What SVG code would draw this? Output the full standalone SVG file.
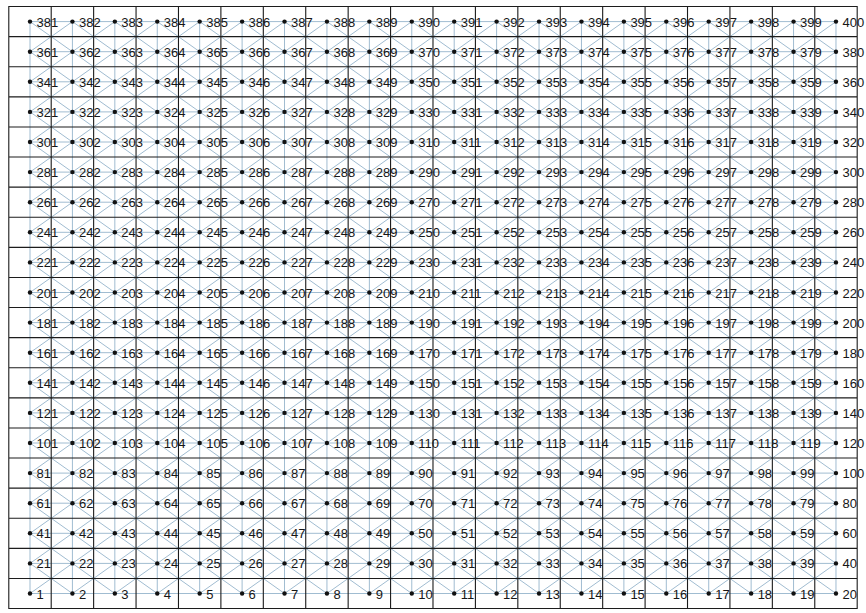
<svg xmlns="http://www.w3.org/2000/svg" width="866" height="613" viewBox="0 0 866 613">
<style>
.mesh{fill:none;stroke:#a0bcd1;stroke-width:1}
.grid{fill:none;stroke:#1c1c1c;stroke-width:1.1}
circle{fill:#111}
text{font-family:"Liberation Sans",Arial,sans-serif;font-size:13px;fill:#161616}
</style>
<rect width="866" height="613" fill="#ffffff"/>
<g id="connectors" transform="translate(30,593.5) scale(42.42,-30.1)">
<path class="mesh" vector-effect="non-scaling-stroke" d="M0 0H19M0 1H19M0 2H19M0 3H19M0 4H19M0 5H19M0 6H19M0 7H19M0 8H19M0 9H19M0 10H19M0 11H19M0 12H19M0 13H19M0 14H19M0 15H19M0 16H19M0 17H19M0 18H19M0 19H19"/>
<path class="mesh" vector-effect="non-scaling-stroke" d="M0 0V19M1 0V19M2 0V19M3 0V19M4 0V19M5 0V19M6 0V19M7 0V19M8 0V19M9 0V19M10 0V19M11 0V19M12 0V19M13 0V19M14 0V19M15 0V19M16 0V19M17 0V19M18 0V19M19 0V19"/>
<path class="mesh" vector-effect="non-scaling-stroke" d="M0 0L19 19M1 0L19 18M2 0L19 17M3 0L19 16M4 0L19 15M5 0L19 14M6 0L19 13M7 0L19 12M8 0L19 11M9 0L19 10M10 0L19 9M11 0L19 8M12 0L19 7M13 0L19 6M14 0L19 5M15 0L19 4M16 0L19 3M17 0L19 2M18 0L19 1M0 1L18 19M0 2L17 19M0 3L16 19M0 4L15 19M0 5L14 19M0 6L13 19M0 7L12 19M0 8L11 19M0 9L10 19M0 10L9 19M0 11L8 19M0 12L7 19M0 13L6 19M0 14L5 19M0 15L4 19M0 16L3 19M0 17L2 19M0 18L1 19"/>
<path class="mesh" vector-effect="non-scaling-stroke" d="M0 1L1 0M0 2L2 0M0 3L3 0M0 4L4 0M0 5L5 0M0 6L6 0M0 7L7 0M0 8L8 0M0 9L9 0M0 10L10 0M0 11L11 0M0 12L12 0M0 13L13 0M0 14L14 0M0 15L15 0M0 16L16 0M0 17L17 0M0 18L18 0M0 19L19 0M1 19L19 1M2 19L19 2M3 19L19 3M4 19L19 4M5 19L19 5M6 19L19 6M7 19L19 7M8 19L19 8M9 19L19 9M10 19L19 10M11 19L19 11M12 19L19 12M13 19L19 13M14 19L19 14M15 19L19 15M16 19L19 16M17 19L19 17M18 19L19 18"/>
</g>
<g id="grid" transform="translate(30,593.5) scale(42.42,-30.1)">
<path class="grid" vector-effect="non-scaling-stroke" d="M-0.5 -0.5H19.5V19.5H-0.5ZM0.5 -0.5V19.5M1.5 -0.5V19.5M2.5 -0.5V19.5M3.5 -0.5V19.5M4.5 -0.5V19.5M5.5 -0.5V19.5M6.5 -0.5V19.5M7.5 -0.5V19.5M8.5 -0.5V19.5M9.5 -0.5V19.5M10.5 -0.5V19.5M11.5 -0.5V19.5M12.5 -0.5V19.5M13.5 -0.5V19.5M14.5 -0.5V19.5M15.5 -0.5V19.5M16.5 -0.5V19.5M17.5 -0.5V19.5M18.5 -0.5V19.5M-0.5 0.5H19.5M-0.5 1.5H19.5M-0.5 2.5H19.5M-0.5 3.5H19.5M-0.5 4.5H19.5M-0.5 5.5H19.5M-0.5 6.5H19.5M-0.5 7.5H19.5M-0.5 8.5H19.5M-0.5 9.5H19.5M-0.5 10.5H19.5M-0.5 11.5H19.5M-0.5 12.5H19.5M-0.5 13.5H19.5M-0.5 14.5H19.5M-0.5 15.5H19.5M-0.5 16.5H19.5M-0.5 17.5H19.5M-0.5 18.5H19.5"/>
</g>
<g id="nodes">
<g id="row0" transform="translate(0,593.5)">
<g id="n1" transform="translate(30)"><circle r="2.2"/><text x="6.5" y="5">1</text></g>
<g id="n2" transform="translate(72.42)"><circle r="2.2"/><text x="6.5" y="5">2</text></g>
<g id="n3" transform="translate(114.84)"><circle r="2.2"/><text x="6.5" y="5">3</text></g>
<g id="n4" transform="translate(157.26)"><circle r="2.2"/><text x="6.5" y="5">4</text></g>
<g id="n5" transform="translate(199.68)"><circle r="2.2"/><text x="6.5" y="5">5</text></g>
<g id="n6" transform="translate(242.1)"><circle r="2.2"/><text x="6.5" y="5">6</text></g>
<g id="n7" transform="translate(284.52)"><circle r="2.2"/><text x="6.5" y="5">7</text></g>
<g id="n8" transform="translate(326.94)"><circle r="2.2"/><text x="6.5" y="5">8</text></g>
<g id="n9" transform="translate(369.36)"><circle r="2.2"/><text x="6.5" y="5">9</text></g>
<g id="n10" transform="translate(411.78)"><circle r="2.2"/><text x="6.5" y="5">10</text></g>
<g id="n11" transform="translate(454.2)"><circle r="2.2"/><text x="6.5" y="5">11</text></g>
<g id="n12" transform="translate(496.62)"><circle r="2.2"/><text x="6.5" y="5">12</text></g>
<g id="n13" transform="translate(539.04)"><circle r="2.2"/><text x="6.5" y="5">13</text></g>
<g id="n14" transform="translate(581.46)"><circle r="2.2"/><text x="6.5" y="5">14</text></g>
<g id="n15" transform="translate(623.88)"><circle r="2.2"/><text x="6.5" y="5">15</text></g>
<g id="n16" transform="translate(666.3)"><circle r="2.2"/><text x="6.5" y="5">16</text></g>
<g id="n17" transform="translate(708.72)"><circle r="2.2"/><text x="6.5" y="5">17</text></g>
<g id="n18" transform="translate(751.14)"><circle r="2.2"/><text x="6.5" y="5">18</text></g>
<g id="n19" transform="translate(793.56)"><circle r="2.2"/><text x="6.5" y="5">19</text></g>
<g id="n20" transform="translate(835.98)"><circle r="2.2"/><text x="6.5" y="5">20</text></g>
</g>
<g id="row1" transform="translate(0,563.4)">
<g id="n21" transform="translate(30)"><circle r="2.2"/><text x="6.5" y="5">21</text></g>
<g id="n22" transform="translate(72.42)"><circle r="2.2"/><text x="6.5" y="5">22</text></g>
<g id="n23" transform="translate(114.84)"><circle r="2.2"/><text x="6.5" y="5">23</text></g>
<g id="n24" transform="translate(157.26)"><circle r="2.2"/><text x="6.5" y="5">24</text></g>
<g id="n25" transform="translate(199.68)"><circle r="2.2"/><text x="6.5" y="5">25</text></g>
<g id="n26" transform="translate(242.1)"><circle r="2.2"/><text x="6.5" y="5">26</text></g>
<g id="n27" transform="translate(284.52)"><circle r="2.2"/><text x="6.5" y="5">27</text></g>
<g id="n28" transform="translate(326.94)"><circle r="2.2"/><text x="6.5" y="5">28</text></g>
<g id="n29" transform="translate(369.36)"><circle r="2.2"/><text x="6.5" y="5">29</text></g>
<g id="n30" transform="translate(411.78)"><circle r="2.2"/><text x="6.5" y="5">30</text></g>
<g id="n31" transform="translate(454.2)"><circle r="2.2"/><text x="6.5" y="5">31</text></g>
<g id="n32" transform="translate(496.62)"><circle r="2.2"/><text x="6.5" y="5">32</text></g>
<g id="n33" transform="translate(539.04)"><circle r="2.2"/><text x="6.5" y="5">33</text></g>
<g id="n34" transform="translate(581.46)"><circle r="2.2"/><text x="6.5" y="5">34</text></g>
<g id="n35" transform="translate(623.88)"><circle r="2.2"/><text x="6.5" y="5">35</text></g>
<g id="n36" transform="translate(666.3)"><circle r="2.2"/><text x="6.5" y="5">36</text></g>
<g id="n37" transform="translate(708.72)"><circle r="2.2"/><text x="6.5" y="5">37</text></g>
<g id="n38" transform="translate(751.14)"><circle r="2.2"/><text x="6.5" y="5">38</text></g>
<g id="n39" transform="translate(793.56)"><circle r="2.2"/><text x="6.5" y="5">39</text></g>
<g id="n40" transform="translate(835.98)"><circle r="2.2"/><text x="6.5" y="5">40</text></g>
</g>
<g id="row2" transform="translate(0,533.3)">
<g id="n41" transform="translate(30)"><circle r="2.2"/><text x="6.5" y="5">41</text></g>
<g id="n42" transform="translate(72.42)"><circle r="2.2"/><text x="6.5" y="5">42</text></g>
<g id="n43" transform="translate(114.84)"><circle r="2.2"/><text x="6.5" y="5">43</text></g>
<g id="n44" transform="translate(157.26)"><circle r="2.2"/><text x="6.5" y="5">44</text></g>
<g id="n45" transform="translate(199.68)"><circle r="2.2"/><text x="6.5" y="5">45</text></g>
<g id="n46" transform="translate(242.1)"><circle r="2.2"/><text x="6.5" y="5">46</text></g>
<g id="n47" transform="translate(284.52)"><circle r="2.2"/><text x="6.5" y="5">47</text></g>
<g id="n48" transform="translate(326.94)"><circle r="2.2"/><text x="6.5" y="5">48</text></g>
<g id="n49" transform="translate(369.36)"><circle r="2.2"/><text x="6.5" y="5">49</text></g>
<g id="n50" transform="translate(411.78)"><circle r="2.2"/><text x="6.5" y="5">50</text></g>
<g id="n51" transform="translate(454.2)"><circle r="2.2"/><text x="6.5" y="5">51</text></g>
<g id="n52" transform="translate(496.62)"><circle r="2.2"/><text x="6.5" y="5">52</text></g>
<g id="n53" transform="translate(539.04)"><circle r="2.2"/><text x="6.5" y="5">53</text></g>
<g id="n54" transform="translate(581.46)"><circle r="2.2"/><text x="6.5" y="5">54</text></g>
<g id="n55" transform="translate(623.88)"><circle r="2.2"/><text x="6.5" y="5">55</text></g>
<g id="n56" transform="translate(666.3)"><circle r="2.2"/><text x="6.5" y="5">56</text></g>
<g id="n57" transform="translate(708.72)"><circle r="2.2"/><text x="6.5" y="5">57</text></g>
<g id="n58" transform="translate(751.14)"><circle r="2.2"/><text x="6.5" y="5">58</text></g>
<g id="n59" transform="translate(793.56)"><circle r="2.2"/><text x="6.5" y="5">59</text></g>
<g id="n60" transform="translate(835.98)"><circle r="2.2"/><text x="6.5" y="5">60</text></g>
</g>
<g id="row3" transform="translate(0,503.2)">
<g id="n61" transform="translate(30)"><circle r="2.2"/><text x="6.5" y="5">61</text></g>
<g id="n62" transform="translate(72.42)"><circle r="2.2"/><text x="6.5" y="5">62</text></g>
<g id="n63" transform="translate(114.84)"><circle r="2.2"/><text x="6.5" y="5">63</text></g>
<g id="n64" transform="translate(157.26)"><circle r="2.2"/><text x="6.5" y="5">64</text></g>
<g id="n65" transform="translate(199.68)"><circle r="2.2"/><text x="6.5" y="5">65</text></g>
<g id="n66" transform="translate(242.1)"><circle r="2.2"/><text x="6.5" y="5">66</text></g>
<g id="n67" transform="translate(284.52)"><circle r="2.2"/><text x="6.5" y="5">67</text></g>
<g id="n68" transform="translate(326.94)"><circle r="2.2"/><text x="6.5" y="5">68</text></g>
<g id="n69" transform="translate(369.36)"><circle r="2.2"/><text x="6.5" y="5">69</text></g>
<g id="n70" transform="translate(411.78)"><circle r="2.2"/><text x="6.5" y="5">70</text></g>
<g id="n71" transform="translate(454.2)"><circle r="2.2"/><text x="6.5" y="5">71</text></g>
<g id="n72" transform="translate(496.62)"><circle r="2.2"/><text x="6.5" y="5">72</text></g>
<g id="n73" transform="translate(539.04)"><circle r="2.2"/><text x="6.5" y="5">73</text></g>
<g id="n74" transform="translate(581.46)"><circle r="2.2"/><text x="6.5" y="5">74</text></g>
<g id="n75" transform="translate(623.88)"><circle r="2.2"/><text x="6.5" y="5">75</text></g>
<g id="n76" transform="translate(666.3)"><circle r="2.2"/><text x="6.5" y="5">76</text></g>
<g id="n77" transform="translate(708.72)"><circle r="2.2"/><text x="6.5" y="5">77</text></g>
<g id="n78" transform="translate(751.14)"><circle r="2.2"/><text x="6.5" y="5">78</text></g>
<g id="n79" transform="translate(793.56)"><circle r="2.2"/><text x="6.5" y="5">79</text></g>
<g id="n80" transform="translate(835.98)"><circle r="2.2"/><text x="6.5" y="5">80</text></g>
</g>
<g id="row4" transform="translate(0,473.1)">
<g id="n81" transform="translate(30)"><circle r="2.2"/><text x="6.5" y="5">81</text></g>
<g id="n82" transform="translate(72.42)"><circle r="2.2"/><text x="6.5" y="5">82</text></g>
<g id="n83" transform="translate(114.84)"><circle r="2.2"/><text x="6.5" y="5">83</text></g>
<g id="n84" transform="translate(157.26)"><circle r="2.2"/><text x="6.5" y="5">84</text></g>
<g id="n85" transform="translate(199.68)"><circle r="2.2"/><text x="6.5" y="5">85</text></g>
<g id="n86" transform="translate(242.1)"><circle r="2.2"/><text x="6.5" y="5">86</text></g>
<g id="n87" transform="translate(284.52)"><circle r="2.2"/><text x="6.5" y="5">87</text></g>
<g id="n88" transform="translate(326.94)"><circle r="2.2"/><text x="6.5" y="5">88</text></g>
<g id="n89" transform="translate(369.36)"><circle r="2.2"/><text x="6.5" y="5">89</text></g>
<g id="n90" transform="translate(411.78)"><circle r="2.2"/><text x="6.5" y="5">90</text></g>
<g id="n91" transform="translate(454.2)"><circle r="2.2"/><text x="6.5" y="5">91</text></g>
<g id="n92" transform="translate(496.62)"><circle r="2.2"/><text x="6.5" y="5">92</text></g>
<g id="n93" transform="translate(539.04)"><circle r="2.2"/><text x="6.5" y="5">93</text></g>
<g id="n94" transform="translate(581.46)"><circle r="2.2"/><text x="6.5" y="5">94</text></g>
<g id="n95" transform="translate(623.88)"><circle r="2.2"/><text x="6.5" y="5">95</text></g>
<g id="n96" transform="translate(666.3)"><circle r="2.2"/><text x="6.5" y="5">96</text></g>
<g id="n97" transform="translate(708.72)"><circle r="2.2"/><text x="6.5" y="5">97</text></g>
<g id="n98" transform="translate(751.14)"><circle r="2.2"/><text x="6.5" y="5">98</text></g>
<g id="n99" transform="translate(793.56)"><circle r="2.2"/><text x="6.5" y="5">99</text></g>
<g id="n100" transform="translate(835.98)"><circle r="2.2"/><text x="6.5" y="5">100</text></g>
</g>
<g id="row5" transform="translate(0,443)">
<g id="n101" transform="translate(30)"><circle r="2.2"/><text x="6.5" y="5">101</text></g>
<g id="n102" transform="translate(72.42)"><circle r="2.2"/><text x="6.5" y="5">102</text></g>
<g id="n103" transform="translate(114.84)"><circle r="2.2"/><text x="6.5" y="5">103</text></g>
<g id="n104" transform="translate(157.26)"><circle r="2.2"/><text x="6.5" y="5">104</text></g>
<g id="n105" transform="translate(199.68)"><circle r="2.2"/><text x="6.5" y="5">105</text></g>
<g id="n106" transform="translate(242.1)"><circle r="2.2"/><text x="6.5" y="5">106</text></g>
<g id="n107" transform="translate(284.52)"><circle r="2.2"/><text x="6.5" y="5">107</text></g>
<g id="n108" transform="translate(326.94)"><circle r="2.2"/><text x="6.5" y="5">108</text></g>
<g id="n109" transform="translate(369.36)"><circle r="2.2"/><text x="6.5" y="5">109</text></g>
<g id="n110" transform="translate(411.78)"><circle r="2.2"/><text x="6.5" y="5">110</text></g>
<g id="n111" transform="translate(454.2)"><circle r="2.2"/><text x="6.5" y="5">111</text></g>
<g id="n112" transform="translate(496.62)"><circle r="2.2"/><text x="6.5" y="5">112</text></g>
<g id="n113" transform="translate(539.04)"><circle r="2.2"/><text x="6.5" y="5">113</text></g>
<g id="n114" transform="translate(581.46)"><circle r="2.2"/><text x="6.5" y="5">114</text></g>
<g id="n115" transform="translate(623.88)"><circle r="2.2"/><text x="6.5" y="5">115</text></g>
<g id="n116" transform="translate(666.3)"><circle r="2.2"/><text x="6.5" y="5">116</text></g>
<g id="n117" transform="translate(708.72)"><circle r="2.2"/><text x="6.5" y="5">117</text></g>
<g id="n118" transform="translate(751.14)"><circle r="2.2"/><text x="6.5" y="5">118</text></g>
<g id="n119" transform="translate(793.56)"><circle r="2.2"/><text x="6.5" y="5">119</text></g>
<g id="n120" transform="translate(835.98)"><circle r="2.2"/><text x="6.5" y="5">120</text></g>
</g>
<g id="row6" transform="translate(0,412.9)">
<g id="n121" transform="translate(30)"><circle r="2.2"/><text x="6.5" y="5">121</text></g>
<g id="n122" transform="translate(72.42)"><circle r="2.2"/><text x="6.5" y="5">122</text></g>
<g id="n123" transform="translate(114.84)"><circle r="2.2"/><text x="6.5" y="5">123</text></g>
<g id="n124" transform="translate(157.26)"><circle r="2.2"/><text x="6.5" y="5">124</text></g>
<g id="n125" transform="translate(199.68)"><circle r="2.2"/><text x="6.5" y="5">125</text></g>
<g id="n126" transform="translate(242.1)"><circle r="2.2"/><text x="6.5" y="5">126</text></g>
<g id="n127" transform="translate(284.52)"><circle r="2.2"/><text x="6.5" y="5">127</text></g>
<g id="n128" transform="translate(326.94)"><circle r="2.2"/><text x="6.5" y="5">128</text></g>
<g id="n129" transform="translate(369.36)"><circle r="2.2"/><text x="6.5" y="5">129</text></g>
<g id="n130" transform="translate(411.78)"><circle r="2.2"/><text x="6.5" y="5">130</text></g>
<g id="n131" transform="translate(454.2)"><circle r="2.2"/><text x="6.5" y="5">131</text></g>
<g id="n132" transform="translate(496.62)"><circle r="2.2"/><text x="6.5" y="5">132</text></g>
<g id="n133" transform="translate(539.04)"><circle r="2.2"/><text x="6.5" y="5">133</text></g>
<g id="n134" transform="translate(581.46)"><circle r="2.2"/><text x="6.5" y="5">134</text></g>
<g id="n135" transform="translate(623.88)"><circle r="2.2"/><text x="6.5" y="5">135</text></g>
<g id="n136" transform="translate(666.3)"><circle r="2.2"/><text x="6.5" y="5">136</text></g>
<g id="n137" transform="translate(708.72)"><circle r="2.2"/><text x="6.5" y="5">137</text></g>
<g id="n138" transform="translate(751.14)"><circle r="2.2"/><text x="6.5" y="5">138</text></g>
<g id="n139" transform="translate(793.56)"><circle r="2.2"/><text x="6.5" y="5">139</text></g>
<g id="n140" transform="translate(835.98)"><circle r="2.2"/><text x="6.5" y="5">140</text></g>
</g>
<g id="row7" transform="translate(0,382.8)">
<g id="n141" transform="translate(30)"><circle r="2.2"/><text x="6.5" y="5">141</text></g>
<g id="n142" transform="translate(72.42)"><circle r="2.2"/><text x="6.5" y="5">142</text></g>
<g id="n143" transform="translate(114.84)"><circle r="2.2"/><text x="6.5" y="5">143</text></g>
<g id="n144" transform="translate(157.26)"><circle r="2.2"/><text x="6.5" y="5">144</text></g>
<g id="n145" transform="translate(199.68)"><circle r="2.2"/><text x="6.5" y="5">145</text></g>
<g id="n146" transform="translate(242.1)"><circle r="2.2"/><text x="6.5" y="5">146</text></g>
<g id="n147" transform="translate(284.52)"><circle r="2.2"/><text x="6.5" y="5">147</text></g>
<g id="n148" transform="translate(326.94)"><circle r="2.2"/><text x="6.5" y="5">148</text></g>
<g id="n149" transform="translate(369.36)"><circle r="2.2"/><text x="6.5" y="5">149</text></g>
<g id="n150" transform="translate(411.78)"><circle r="2.2"/><text x="6.5" y="5">150</text></g>
<g id="n151" transform="translate(454.2)"><circle r="2.2"/><text x="6.5" y="5">151</text></g>
<g id="n152" transform="translate(496.62)"><circle r="2.2"/><text x="6.5" y="5">152</text></g>
<g id="n153" transform="translate(539.04)"><circle r="2.2"/><text x="6.5" y="5">153</text></g>
<g id="n154" transform="translate(581.46)"><circle r="2.2"/><text x="6.5" y="5">154</text></g>
<g id="n155" transform="translate(623.88)"><circle r="2.2"/><text x="6.5" y="5">155</text></g>
<g id="n156" transform="translate(666.3)"><circle r="2.2"/><text x="6.5" y="5">156</text></g>
<g id="n157" transform="translate(708.72)"><circle r="2.2"/><text x="6.5" y="5">157</text></g>
<g id="n158" transform="translate(751.14)"><circle r="2.2"/><text x="6.5" y="5">158</text></g>
<g id="n159" transform="translate(793.56)"><circle r="2.2"/><text x="6.5" y="5">159</text></g>
<g id="n160" transform="translate(835.98)"><circle r="2.2"/><text x="6.5" y="5">160</text></g>
</g>
<g id="row8" transform="translate(0,352.7)">
<g id="n161" transform="translate(30)"><circle r="2.2"/><text x="6.5" y="5">161</text></g>
<g id="n162" transform="translate(72.42)"><circle r="2.2"/><text x="6.5" y="5">162</text></g>
<g id="n163" transform="translate(114.84)"><circle r="2.2"/><text x="6.5" y="5">163</text></g>
<g id="n164" transform="translate(157.26)"><circle r="2.2"/><text x="6.5" y="5">164</text></g>
<g id="n165" transform="translate(199.68)"><circle r="2.2"/><text x="6.5" y="5">165</text></g>
<g id="n166" transform="translate(242.1)"><circle r="2.2"/><text x="6.5" y="5">166</text></g>
<g id="n167" transform="translate(284.52)"><circle r="2.2"/><text x="6.5" y="5">167</text></g>
<g id="n168" transform="translate(326.94)"><circle r="2.2"/><text x="6.5" y="5">168</text></g>
<g id="n169" transform="translate(369.36)"><circle r="2.2"/><text x="6.5" y="5">169</text></g>
<g id="n170" transform="translate(411.78)"><circle r="2.2"/><text x="6.5" y="5">170</text></g>
<g id="n171" transform="translate(454.2)"><circle r="2.2"/><text x="6.5" y="5">171</text></g>
<g id="n172" transform="translate(496.62)"><circle r="2.2"/><text x="6.5" y="5">172</text></g>
<g id="n173" transform="translate(539.04)"><circle r="2.2"/><text x="6.5" y="5">173</text></g>
<g id="n174" transform="translate(581.46)"><circle r="2.2"/><text x="6.5" y="5">174</text></g>
<g id="n175" transform="translate(623.88)"><circle r="2.2"/><text x="6.5" y="5">175</text></g>
<g id="n176" transform="translate(666.3)"><circle r="2.2"/><text x="6.5" y="5">176</text></g>
<g id="n177" transform="translate(708.72)"><circle r="2.2"/><text x="6.5" y="5">177</text></g>
<g id="n178" transform="translate(751.14)"><circle r="2.2"/><text x="6.5" y="5">178</text></g>
<g id="n179" transform="translate(793.56)"><circle r="2.2"/><text x="6.5" y="5">179</text></g>
<g id="n180" transform="translate(835.98)"><circle r="2.2"/><text x="6.5" y="5">180</text></g>
</g>
<g id="row9" transform="translate(0,322.6)">
<g id="n181" transform="translate(30)"><circle r="2.2"/><text x="6.5" y="5">181</text></g>
<g id="n182" transform="translate(72.42)"><circle r="2.2"/><text x="6.5" y="5">182</text></g>
<g id="n183" transform="translate(114.84)"><circle r="2.2"/><text x="6.5" y="5">183</text></g>
<g id="n184" transform="translate(157.26)"><circle r="2.2"/><text x="6.5" y="5">184</text></g>
<g id="n185" transform="translate(199.68)"><circle r="2.2"/><text x="6.5" y="5">185</text></g>
<g id="n186" transform="translate(242.1)"><circle r="2.2"/><text x="6.5" y="5">186</text></g>
<g id="n187" transform="translate(284.52)"><circle r="2.2"/><text x="6.5" y="5">187</text></g>
<g id="n188" transform="translate(326.94)"><circle r="2.2"/><text x="6.5" y="5">188</text></g>
<g id="n189" transform="translate(369.36)"><circle r="2.2"/><text x="6.5" y="5">189</text></g>
<g id="n190" transform="translate(411.78)"><circle r="2.2"/><text x="6.5" y="5">190</text></g>
<g id="n191" transform="translate(454.2)"><circle r="2.2"/><text x="6.5" y="5">191</text></g>
<g id="n192" transform="translate(496.62)"><circle r="2.2"/><text x="6.5" y="5">192</text></g>
<g id="n193" transform="translate(539.04)"><circle r="2.2"/><text x="6.5" y="5">193</text></g>
<g id="n194" transform="translate(581.46)"><circle r="2.2"/><text x="6.5" y="5">194</text></g>
<g id="n195" transform="translate(623.88)"><circle r="2.2"/><text x="6.5" y="5">195</text></g>
<g id="n196" transform="translate(666.3)"><circle r="2.2"/><text x="6.5" y="5">196</text></g>
<g id="n197" transform="translate(708.72)"><circle r="2.2"/><text x="6.5" y="5">197</text></g>
<g id="n198" transform="translate(751.14)"><circle r="2.2"/><text x="6.5" y="5">198</text></g>
<g id="n199" transform="translate(793.56)"><circle r="2.2"/><text x="6.5" y="5">199</text></g>
<g id="n200" transform="translate(835.98)"><circle r="2.2"/><text x="6.5" y="5">200</text></g>
</g>
<g id="row10" transform="translate(0,292.5)">
<g id="n201" transform="translate(30)"><circle r="2.2"/><text x="6.5" y="5">201</text></g>
<g id="n202" transform="translate(72.42)"><circle r="2.2"/><text x="6.5" y="5">202</text></g>
<g id="n203" transform="translate(114.84)"><circle r="2.2"/><text x="6.5" y="5">203</text></g>
<g id="n204" transform="translate(157.26)"><circle r="2.2"/><text x="6.5" y="5">204</text></g>
<g id="n205" transform="translate(199.68)"><circle r="2.2"/><text x="6.5" y="5">205</text></g>
<g id="n206" transform="translate(242.1)"><circle r="2.2"/><text x="6.5" y="5">206</text></g>
<g id="n207" transform="translate(284.52)"><circle r="2.2"/><text x="6.5" y="5">207</text></g>
<g id="n208" transform="translate(326.94)"><circle r="2.2"/><text x="6.5" y="5">208</text></g>
<g id="n209" transform="translate(369.36)"><circle r="2.2"/><text x="6.5" y="5">209</text></g>
<g id="n210" transform="translate(411.78)"><circle r="2.2"/><text x="6.5" y="5">210</text></g>
<g id="n211" transform="translate(454.2)"><circle r="2.2"/><text x="6.5" y="5">211</text></g>
<g id="n212" transform="translate(496.62)"><circle r="2.2"/><text x="6.5" y="5">212</text></g>
<g id="n213" transform="translate(539.04)"><circle r="2.2"/><text x="6.5" y="5">213</text></g>
<g id="n214" transform="translate(581.46)"><circle r="2.2"/><text x="6.5" y="5">214</text></g>
<g id="n215" transform="translate(623.88)"><circle r="2.2"/><text x="6.5" y="5">215</text></g>
<g id="n216" transform="translate(666.3)"><circle r="2.2"/><text x="6.5" y="5">216</text></g>
<g id="n217" transform="translate(708.72)"><circle r="2.2"/><text x="6.5" y="5">217</text></g>
<g id="n218" transform="translate(751.14)"><circle r="2.2"/><text x="6.5" y="5">218</text></g>
<g id="n219" transform="translate(793.56)"><circle r="2.2"/><text x="6.5" y="5">219</text></g>
<g id="n220" transform="translate(835.98)"><circle r="2.2"/><text x="6.5" y="5">220</text></g>
</g>
<g id="row11" transform="translate(0,262.4)">
<g id="n221" transform="translate(30)"><circle r="2.2"/><text x="6.5" y="5">221</text></g>
<g id="n222" transform="translate(72.42)"><circle r="2.2"/><text x="6.5" y="5">222</text></g>
<g id="n223" transform="translate(114.84)"><circle r="2.2"/><text x="6.5" y="5">223</text></g>
<g id="n224" transform="translate(157.26)"><circle r="2.2"/><text x="6.5" y="5">224</text></g>
<g id="n225" transform="translate(199.68)"><circle r="2.2"/><text x="6.5" y="5">225</text></g>
<g id="n226" transform="translate(242.1)"><circle r="2.2"/><text x="6.5" y="5">226</text></g>
<g id="n227" transform="translate(284.52)"><circle r="2.2"/><text x="6.5" y="5">227</text></g>
<g id="n228" transform="translate(326.94)"><circle r="2.2"/><text x="6.5" y="5">228</text></g>
<g id="n229" transform="translate(369.36)"><circle r="2.2"/><text x="6.5" y="5">229</text></g>
<g id="n230" transform="translate(411.78)"><circle r="2.2"/><text x="6.5" y="5">230</text></g>
<g id="n231" transform="translate(454.2)"><circle r="2.2"/><text x="6.5" y="5">231</text></g>
<g id="n232" transform="translate(496.62)"><circle r="2.2"/><text x="6.5" y="5">232</text></g>
<g id="n233" transform="translate(539.04)"><circle r="2.2"/><text x="6.5" y="5">233</text></g>
<g id="n234" transform="translate(581.46)"><circle r="2.2"/><text x="6.5" y="5">234</text></g>
<g id="n235" transform="translate(623.88)"><circle r="2.2"/><text x="6.5" y="5">235</text></g>
<g id="n236" transform="translate(666.3)"><circle r="2.2"/><text x="6.5" y="5">236</text></g>
<g id="n237" transform="translate(708.72)"><circle r="2.2"/><text x="6.5" y="5">237</text></g>
<g id="n238" transform="translate(751.14)"><circle r="2.2"/><text x="6.5" y="5">238</text></g>
<g id="n239" transform="translate(793.56)"><circle r="2.2"/><text x="6.5" y="5">239</text></g>
<g id="n240" transform="translate(835.98)"><circle r="2.2"/><text x="6.5" y="5">240</text></g>
</g>
<g id="row12" transform="translate(0,232.3)">
<g id="n241" transform="translate(30)"><circle r="2.2"/><text x="6.5" y="5">241</text></g>
<g id="n242" transform="translate(72.42)"><circle r="2.2"/><text x="6.5" y="5">242</text></g>
<g id="n243" transform="translate(114.84)"><circle r="2.2"/><text x="6.5" y="5">243</text></g>
<g id="n244" transform="translate(157.26)"><circle r="2.2"/><text x="6.5" y="5">244</text></g>
<g id="n245" transform="translate(199.68)"><circle r="2.2"/><text x="6.5" y="5">245</text></g>
<g id="n246" transform="translate(242.1)"><circle r="2.2"/><text x="6.5" y="5">246</text></g>
<g id="n247" transform="translate(284.52)"><circle r="2.2"/><text x="6.5" y="5">247</text></g>
<g id="n248" transform="translate(326.94)"><circle r="2.2"/><text x="6.5" y="5">248</text></g>
<g id="n249" transform="translate(369.36)"><circle r="2.2"/><text x="6.5" y="5">249</text></g>
<g id="n250" transform="translate(411.78)"><circle r="2.2"/><text x="6.5" y="5">250</text></g>
<g id="n251" transform="translate(454.2)"><circle r="2.2"/><text x="6.5" y="5">251</text></g>
<g id="n252" transform="translate(496.62)"><circle r="2.2"/><text x="6.5" y="5">252</text></g>
<g id="n253" transform="translate(539.04)"><circle r="2.2"/><text x="6.5" y="5">253</text></g>
<g id="n254" transform="translate(581.46)"><circle r="2.2"/><text x="6.5" y="5">254</text></g>
<g id="n255" transform="translate(623.88)"><circle r="2.2"/><text x="6.5" y="5">255</text></g>
<g id="n256" transform="translate(666.3)"><circle r="2.2"/><text x="6.5" y="5">256</text></g>
<g id="n257" transform="translate(708.72)"><circle r="2.2"/><text x="6.5" y="5">257</text></g>
<g id="n258" transform="translate(751.14)"><circle r="2.2"/><text x="6.5" y="5">258</text></g>
<g id="n259" transform="translate(793.56)"><circle r="2.2"/><text x="6.5" y="5">259</text></g>
<g id="n260" transform="translate(835.98)"><circle r="2.2"/><text x="6.5" y="5">260</text></g>
</g>
<g id="row13" transform="translate(0,202.2)">
<g id="n261" transform="translate(30)"><circle r="2.2"/><text x="6.5" y="5">261</text></g>
<g id="n262" transform="translate(72.42)"><circle r="2.2"/><text x="6.5" y="5">262</text></g>
<g id="n263" transform="translate(114.84)"><circle r="2.2"/><text x="6.5" y="5">263</text></g>
<g id="n264" transform="translate(157.26)"><circle r="2.2"/><text x="6.5" y="5">264</text></g>
<g id="n265" transform="translate(199.68)"><circle r="2.2"/><text x="6.5" y="5">265</text></g>
<g id="n266" transform="translate(242.1)"><circle r="2.2"/><text x="6.5" y="5">266</text></g>
<g id="n267" transform="translate(284.52)"><circle r="2.2"/><text x="6.5" y="5">267</text></g>
<g id="n268" transform="translate(326.94)"><circle r="2.2"/><text x="6.5" y="5">268</text></g>
<g id="n269" transform="translate(369.36)"><circle r="2.2"/><text x="6.5" y="5">269</text></g>
<g id="n270" transform="translate(411.78)"><circle r="2.2"/><text x="6.5" y="5">270</text></g>
<g id="n271" transform="translate(454.2)"><circle r="2.2"/><text x="6.5" y="5">271</text></g>
<g id="n272" transform="translate(496.62)"><circle r="2.2"/><text x="6.5" y="5">272</text></g>
<g id="n273" transform="translate(539.04)"><circle r="2.2"/><text x="6.5" y="5">273</text></g>
<g id="n274" transform="translate(581.46)"><circle r="2.2"/><text x="6.5" y="5">274</text></g>
<g id="n275" transform="translate(623.88)"><circle r="2.2"/><text x="6.5" y="5">275</text></g>
<g id="n276" transform="translate(666.3)"><circle r="2.2"/><text x="6.5" y="5">276</text></g>
<g id="n277" transform="translate(708.72)"><circle r="2.2"/><text x="6.5" y="5">277</text></g>
<g id="n278" transform="translate(751.14)"><circle r="2.2"/><text x="6.5" y="5">278</text></g>
<g id="n279" transform="translate(793.56)"><circle r="2.2"/><text x="6.5" y="5">279</text></g>
<g id="n280" transform="translate(835.98)"><circle r="2.2"/><text x="6.5" y="5">280</text></g>
</g>
<g id="row14" transform="translate(0,172.1)">
<g id="n281" transform="translate(30)"><circle r="2.2"/><text x="6.5" y="5">281</text></g>
<g id="n282" transform="translate(72.42)"><circle r="2.2"/><text x="6.5" y="5">282</text></g>
<g id="n283" transform="translate(114.84)"><circle r="2.2"/><text x="6.5" y="5">283</text></g>
<g id="n284" transform="translate(157.26)"><circle r="2.2"/><text x="6.5" y="5">284</text></g>
<g id="n285" transform="translate(199.68)"><circle r="2.2"/><text x="6.5" y="5">285</text></g>
<g id="n286" transform="translate(242.1)"><circle r="2.2"/><text x="6.5" y="5">286</text></g>
<g id="n287" transform="translate(284.52)"><circle r="2.2"/><text x="6.5" y="5">287</text></g>
<g id="n288" transform="translate(326.94)"><circle r="2.2"/><text x="6.5" y="5">288</text></g>
<g id="n289" transform="translate(369.36)"><circle r="2.2"/><text x="6.5" y="5">289</text></g>
<g id="n290" transform="translate(411.78)"><circle r="2.2"/><text x="6.5" y="5">290</text></g>
<g id="n291" transform="translate(454.2)"><circle r="2.2"/><text x="6.5" y="5">291</text></g>
<g id="n292" transform="translate(496.62)"><circle r="2.2"/><text x="6.5" y="5">292</text></g>
<g id="n293" transform="translate(539.04)"><circle r="2.2"/><text x="6.5" y="5">293</text></g>
<g id="n294" transform="translate(581.46)"><circle r="2.2"/><text x="6.5" y="5">294</text></g>
<g id="n295" transform="translate(623.88)"><circle r="2.2"/><text x="6.5" y="5">295</text></g>
<g id="n296" transform="translate(666.3)"><circle r="2.2"/><text x="6.5" y="5">296</text></g>
<g id="n297" transform="translate(708.72)"><circle r="2.2"/><text x="6.5" y="5">297</text></g>
<g id="n298" transform="translate(751.14)"><circle r="2.2"/><text x="6.5" y="5">298</text></g>
<g id="n299" transform="translate(793.56)"><circle r="2.2"/><text x="6.5" y="5">299</text></g>
<g id="n300" transform="translate(835.98)"><circle r="2.2"/><text x="6.5" y="5">300</text></g>
</g>
<g id="row15" transform="translate(0,142)">
<g id="n301" transform="translate(30)"><circle r="2.2"/><text x="6.5" y="5">301</text></g>
<g id="n302" transform="translate(72.42)"><circle r="2.2"/><text x="6.5" y="5">302</text></g>
<g id="n303" transform="translate(114.84)"><circle r="2.2"/><text x="6.5" y="5">303</text></g>
<g id="n304" transform="translate(157.26)"><circle r="2.2"/><text x="6.5" y="5">304</text></g>
<g id="n305" transform="translate(199.68)"><circle r="2.2"/><text x="6.5" y="5">305</text></g>
<g id="n306" transform="translate(242.1)"><circle r="2.2"/><text x="6.5" y="5">306</text></g>
<g id="n307" transform="translate(284.52)"><circle r="2.2"/><text x="6.5" y="5">307</text></g>
<g id="n308" transform="translate(326.94)"><circle r="2.2"/><text x="6.5" y="5">308</text></g>
<g id="n309" transform="translate(369.36)"><circle r="2.2"/><text x="6.5" y="5">309</text></g>
<g id="n310" transform="translate(411.78)"><circle r="2.2"/><text x="6.5" y="5">310</text></g>
<g id="n311" transform="translate(454.2)"><circle r="2.2"/><text x="6.5" y="5">311</text></g>
<g id="n312" transform="translate(496.62)"><circle r="2.2"/><text x="6.5" y="5">312</text></g>
<g id="n313" transform="translate(539.04)"><circle r="2.2"/><text x="6.5" y="5">313</text></g>
<g id="n314" transform="translate(581.46)"><circle r="2.2"/><text x="6.5" y="5">314</text></g>
<g id="n315" transform="translate(623.88)"><circle r="2.2"/><text x="6.5" y="5">315</text></g>
<g id="n316" transform="translate(666.3)"><circle r="2.2"/><text x="6.5" y="5">316</text></g>
<g id="n317" transform="translate(708.72)"><circle r="2.2"/><text x="6.5" y="5">317</text></g>
<g id="n318" transform="translate(751.14)"><circle r="2.2"/><text x="6.5" y="5">318</text></g>
<g id="n319" transform="translate(793.56)"><circle r="2.2"/><text x="6.5" y="5">319</text></g>
<g id="n320" transform="translate(835.98)"><circle r="2.2"/><text x="6.5" y="5">320</text></g>
</g>
<g id="row16" transform="translate(0,111.9)">
<g id="n321" transform="translate(30)"><circle r="2.2"/><text x="6.5" y="5">321</text></g>
<g id="n322" transform="translate(72.42)"><circle r="2.2"/><text x="6.5" y="5">322</text></g>
<g id="n323" transform="translate(114.84)"><circle r="2.2"/><text x="6.5" y="5">323</text></g>
<g id="n324" transform="translate(157.26)"><circle r="2.2"/><text x="6.5" y="5">324</text></g>
<g id="n325" transform="translate(199.68)"><circle r="2.2"/><text x="6.5" y="5">325</text></g>
<g id="n326" transform="translate(242.1)"><circle r="2.2"/><text x="6.5" y="5">326</text></g>
<g id="n327" transform="translate(284.52)"><circle r="2.2"/><text x="6.5" y="5">327</text></g>
<g id="n328" transform="translate(326.94)"><circle r="2.2"/><text x="6.5" y="5">328</text></g>
<g id="n329" transform="translate(369.36)"><circle r="2.2"/><text x="6.5" y="5">329</text></g>
<g id="n330" transform="translate(411.78)"><circle r="2.2"/><text x="6.5" y="5">330</text></g>
<g id="n331" transform="translate(454.2)"><circle r="2.2"/><text x="6.5" y="5">331</text></g>
<g id="n332" transform="translate(496.62)"><circle r="2.2"/><text x="6.5" y="5">332</text></g>
<g id="n333" transform="translate(539.04)"><circle r="2.2"/><text x="6.5" y="5">333</text></g>
<g id="n334" transform="translate(581.46)"><circle r="2.2"/><text x="6.5" y="5">334</text></g>
<g id="n335" transform="translate(623.88)"><circle r="2.2"/><text x="6.5" y="5">335</text></g>
<g id="n336" transform="translate(666.3)"><circle r="2.2"/><text x="6.5" y="5">336</text></g>
<g id="n337" transform="translate(708.72)"><circle r="2.2"/><text x="6.5" y="5">337</text></g>
<g id="n338" transform="translate(751.14)"><circle r="2.2"/><text x="6.5" y="5">338</text></g>
<g id="n339" transform="translate(793.56)"><circle r="2.2"/><text x="6.5" y="5">339</text></g>
<g id="n340" transform="translate(835.98)"><circle r="2.2"/><text x="6.5" y="5">340</text></g>
</g>
<g id="row17" transform="translate(0,81.8)">
<g id="n341" transform="translate(30)"><circle r="2.2"/><text x="6.5" y="5">341</text></g>
<g id="n342" transform="translate(72.42)"><circle r="2.2"/><text x="6.5" y="5">342</text></g>
<g id="n343" transform="translate(114.84)"><circle r="2.2"/><text x="6.5" y="5">343</text></g>
<g id="n344" transform="translate(157.26)"><circle r="2.2"/><text x="6.5" y="5">344</text></g>
<g id="n345" transform="translate(199.68)"><circle r="2.2"/><text x="6.5" y="5">345</text></g>
<g id="n346" transform="translate(242.1)"><circle r="2.2"/><text x="6.5" y="5">346</text></g>
<g id="n347" transform="translate(284.52)"><circle r="2.2"/><text x="6.5" y="5">347</text></g>
<g id="n348" transform="translate(326.94)"><circle r="2.2"/><text x="6.5" y="5">348</text></g>
<g id="n349" transform="translate(369.36)"><circle r="2.2"/><text x="6.5" y="5">349</text></g>
<g id="n350" transform="translate(411.78)"><circle r="2.2"/><text x="6.5" y="5">350</text></g>
<g id="n351" transform="translate(454.2)"><circle r="2.2"/><text x="6.5" y="5">351</text></g>
<g id="n352" transform="translate(496.62)"><circle r="2.2"/><text x="6.5" y="5">352</text></g>
<g id="n353" transform="translate(539.04)"><circle r="2.2"/><text x="6.5" y="5">353</text></g>
<g id="n354" transform="translate(581.46)"><circle r="2.2"/><text x="6.5" y="5">354</text></g>
<g id="n355" transform="translate(623.88)"><circle r="2.2"/><text x="6.5" y="5">355</text></g>
<g id="n356" transform="translate(666.3)"><circle r="2.2"/><text x="6.5" y="5">356</text></g>
<g id="n357" transform="translate(708.72)"><circle r="2.2"/><text x="6.5" y="5">357</text></g>
<g id="n358" transform="translate(751.14)"><circle r="2.2"/><text x="6.5" y="5">358</text></g>
<g id="n359" transform="translate(793.56)"><circle r="2.2"/><text x="6.5" y="5">359</text></g>
<g id="n360" transform="translate(835.98)"><circle r="2.2"/><text x="6.5" y="5">360</text></g>
</g>
<g id="row18" transform="translate(0,51.7)">
<g id="n361" transform="translate(30)"><circle r="2.2"/><text x="6.5" y="5">361</text></g>
<g id="n362" transform="translate(72.42)"><circle r="2.2"/><text x="6.5" y="5">362</text></g>
<g id="n363" transform="translate(114.84)"><circle r="2.2"/><text x="6.5" y="5">363</text></g>
<g id="n364" transform="translate(157.26)"><circle r="2.2"/><text x="6.5" y="5">364</text></g>
<g id="n365" transform="translate(199.68)"><circle r="2.2"/><text x="6.5" y="5">365</text></g>
<g id="n366" transform="translate(242.1)"><circle r="2.2"/><text x="6.5" y="5">366</text></g>
<g id="n367" transform="translate(284.52)"><circle r="2.2"/><text x="6.5" y="5">367</text></g>
<g id="n368" transform="translate(326.94)"><circle r="2.2"/><text x="6.5" y="5">368</text></g>
<g id="n369" transform="translate(369.36)"><circle r="2.2"/><text x="6.5" y="5">369</text></g>
<g id="n370" transform="translate(411.78)"><circle r="2.2"/><text x="6.5" y="5">370</text></g>
<g id="n371" transform="translate(454.2)"><circle r="2.2"/><text x="6.5" y="5">371</text></g>
<g id="n372" transform="translate(496.62)"><circle r="2.2"/><text x="6.5" y="5">372</text></g>
<g id="n373" transform="translate(539.04)"><circle r="2.2"/><text x="6.5" y="5">373</text></g>
<g id="n374" transform="translate(581.46)"><circle r="2.2"/><text x="6.5" y="5">374</text></g>
<g id="n375" transform="translate(623.88)"><circle r="2.2"/><text x="6.5" y="5">375</text></g>
<g id="n376" transform="translate(666.3)"><circle r="2.2"/><text x="6.5" y="5">376</text></g>
<g id="n377" transform="translate(708.72)"><circle r="2.2"/><text x="6.5" y="5">377</text></g>
<g id="n378" transform="translate(751.14)"><circle r="2.2"/><text x="6.5" y="5">378</text></g>
<g id="n379" transform="translate(793.56)"><circle r="2.2"/><text x="6.5" y="5">379</text></g>
<g id="n380" transform="translate(835.98)"><circle r="2.2"/><text x="6.5" y="5">380</text></g>
</g>
<g id="row19" transform="translate(0,21.6)">
<g id="n381" transform="translate(30)"><circle r="2.2"/><text x="6.5" y="5">381</text></g>
<g id="n382" transform="translate(72.42)"><circle r="2.2"/><text x="6.5" y="5">382</text></g>
<g id="n383" transform="translate(114.84)"><circle r="2.2"/><text x="6.5" y="5">383</text></g>
<g id="n384" transform="translate(157.26)"><circle r="2.2"/><text x="6.5" y="5">384</text></g>
<g id="n385" transform="translate(199.68)"><circle r="2.2"/><text x="6.5" y="5">385</text></g>
<g id="n386" transform="translate(242.1)"><circle r="2.2"/><text x="6.5" y="5">386</text></g>
<g id="n387" transform="translate(284.52)"><circle r="2.2"/><text x="6.5" y="5">387</text></g>
<g id="n388" transform="translate(326.94)"><circle r="2.2"/><text x="6.5" y="5">388</text></g>
<g id="n389" transform="translate(369.36)"><circle r="2.2"/><text x="6.5" y="5">389</text></g>
<g id="n390" transform="translate(411.78)"><circle r="2.2"/><text x="6.5" y="5">390</text></g>
<g id="n391" transform="translate(454.2)"><circle r="2.2"/><text x="6.5" y="5">391</text></g>
<g id="n392" transform="translate(496.62)"><circle r="2.2"/><text x="6.5" y="5">392</text></g>
<g id="n393" transform="translate(539.04)"><circle r="2.2"/><text x="6.5" y="5">393</text></g>
<g id="n394" transform="translate(581.46)"><circle r="2.2"/><text x="6.5" y="5">394</text></g>
<g id="n395" transform="translate(623.88)"><circle r="2.2"/><text x="6.5" y="5">395</text></g>
<g id="n396" transform="translate(666.3)"><circle r="2.2"/><text x="6.5" y="5">396</text></g>
<g id="n397" transform="translate(708.72)"><circle r="2.2"/><text x="6.5" y="5">397</text></g>
<g id="n398" transform="translate(751.14)"><circle r="2.2"/><text x="6.5" y="5">398</text></g>
<g id="n399" transform="translate(793.56)"><circle r="2.2"/><text x="6.5" y="5">399</text></g>
<g id="n400" transform="translate(835.98)"><circle r="2.2"/><text x="6.5" y="5">400</text></g>
</g>
</g>
</svg>
